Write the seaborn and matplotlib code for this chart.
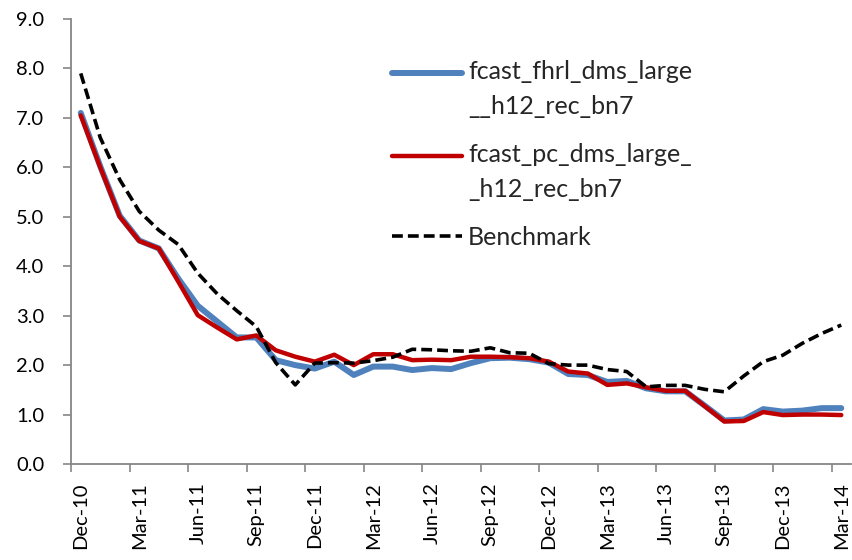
import numpy as np
import pandas as pd
import matplotlib
matplotlib.use("Agg")
import matplotlib.pyplot as plt
import seaborn as sns
from matplotlib.legend_handler import HandlerLine2D

months = pd.date_range("2010-12-01", "2014-03-01", freq="MS")
month_labels = [d.strftime("%b-%y") for d in months]

fcast_fhrl = [7.10, 6.02, 5.02, 4.52, 4.36, 3.75, 3.20, 2.88, 2.56, 2.56,
              2.10, 2.00, 1.93, 2.07, 1.80, 1.97, 1.97, 1.90, 1.94, 1.92,
              2.04, 2.14, 2.15, 2.12, 2.05, 1.82, 1.80, 1.66, 1.68, 1.53,
              1.47, 1.47, 1.18, 0.88, 0.90, 1.11, 1.06, 1.08, 1.13, 1.13]
fcast_pc = [7.05, 6.00, 5.00, 4.51, 4.36, 3.69, 3.01, 2.76, 2.52, 2.60,
            2.30, 2.17, 2.07, 2.21, 2.00, 2.22, 2.22, 2.10, 2.11, 2.10,
            2.17, 2.17, 2.16, 2.14, 2.07, 1.87, 1.83, 1.60, 1.63, 1.55,
            1.48, 1.48, 1.17, 0.86, 0.87, 1.05, 0.99, 1.00, 1.00, 0.99]
benchmark = [7.90, 6.60, 5.75, 5.11, 4.73, 4.44, 3.86, 3.44, 3.10, 2.78,
             2.05, 1.60, 2.04, 2.05, 2.04, 2.09, 2.16, 2.32, 2.31, 2.29,
             2.28, 2.35, 2.25, 2.24, 2.03, 2.00, 2.00, 1.91, 1.87, 1.56,
             1.59, 1.59, 1.51, 1.46, 1.78, 2.07, 2.20, 2.44, 2.64, 2.81]

series_names = ["fcast_fhrl_dms_large\n__h12_rec_bn7",
                "fcast_pc_dms_large_\n_h12_rec_bn7",
                "Benchmark"]

sns.set_style("white")
plt.rcParams['font.family'] = ['Lato', 'DejaVu Sans']

idx = np.arange(len(months))
df = pd.DataFrame({"idx": idx, "fhrl": fcast_fhrl, "pc": fcast_pc, "bench": benchmark})

fig = plt.figure(figsize=(8.52, 5.60), dpi=100)
ax = fig.add_axes([71/852, 1 - 464/560, 780/852, 445/560])

sns.lineplot(data=df, x="idx", y="fhrl", ax=ax, color="#4F81BD", linewidth=4.3,
             label=series_names[0])
sns.lineplot(data=df, x="idx", y="pc", ax=ax, color="#C00000", linewidth=3.2,
             label=series_names[1])
sns.lineplot(data=df, x="idx", y="bench", ax=ax, color="black", linewidth=2.6,
             label=series_names[2])
ax.lines[2].set_dashes([3.0, 1.4])
for ln in ax.lines:
    ln.set_solid_capstyle("round")
    ln.set_solid_joinstyle("round")

ax.set_xlim(-0.5, 39.5)
ax.set_ylim(0, 9)
ax.set_xlabel("")
ax.set_ylabel("")

gray = "#868686"
for s in ["top", "right"]:
    ax.spines[s].set_visible(False)
for s in ["left", "bottom"]:
    ax.spines[s].set_color(gray)
    ax.spines[s].set_linewidth(1.3)

ax.set_yticks(np.arange(0, 10, 1))
ax.set_yticklabels([f"{v:.1f}" for v in np.arange(0, 10, 1)], fontsize=14.5)
ax.tick_params(axis="y", direction="out", length=5.8, width=1.2, color=gray,
               pad=13.5, left=True, labelcolor="black")

ax.set_xticks(idx[::3])
ax.set_xticklabels(month_labels[::3], rotation=90, fontsize=14.5)
ax.set_xticks(np.arange(-0.5, 39, 3), minor=True)
ax.tick_params(axis="x", which="major", length=0, pad=13.0, labelcolor="black")
ax.tick_params(axis="x", which="minor", direction="out", length=5.8, width=1.2,
               color=gray, bottom=True)


class UpHandler(HandlerLine2D):
    def __init__(self, dy=0.0, **kw):
        super().__init__(**kw)
        self.dy = dy

    def create_artists(self, legend, orig_handle, xdescent, ydescent, width,
                       height, fontsize, trans):
        arts = super().create_artists(legend, orig_handle, xdescent, ydescent,
                                      width, height, fontsize, trans)
        for a in arts:
            a.set_ydata(np.asarray(a.get_ydata(), dtype=float) + self.dy)
        return arts


handles, labels = ax.get_legend_handles_labels()
hmap = {handles[0]: UpHandler(dy=12.0), handles[1]: UpHandler(dy=12.0),
        handles[2]: UpHandler(dy=0.0)}
leg = ax.legend(handles, labels, loc="upper left",
                bbox_to_anchor=(392/852, 1 - 60/560),
                bbox_transform=fig.transFigure, frameon=False, fontsize=18,
                handlelength=2.8, handletextpad=0.25, labelspacing=1.0,
                borderpad=0, borderaxespad=0, handler_map=hmap)
for t in leg.get_texts():
    t.set_linespacing(1.62)

fig.savefig("out.png", dpi=100)
